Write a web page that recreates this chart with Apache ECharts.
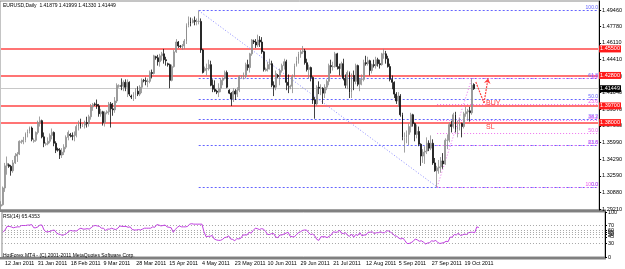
<!DOCTYPE html>
<html><head><meta charset="utf-8">
<script src="https://cdn.jsdelivr.net/npm/echarts@6/dist/echarts.min.js"></script>
<style>html,body{margin:0;padding:0;background:#fff}#c{width:625px;height:269px}</style>
</head><body><div id="c"></div>
<script>
// [day, open, close, low, high, rsi]
const jan = [
[11,1.2950,1.2965,1.2905,1.3000,55],[12,1.2965,1.3135,1.2955,1.3150,60],[13,1.3135,1.3360,1.3095,1.3390,68],
[14,1.3360,1.3385,1.3270,1.3455,68],[16,1.3370,1.3355,1.3340,1.3385,67],[17,1.3355,1.3310,1.3260,1.3370,65],
[18,1.3310,1.3390,1.3290,1.3420,66],[19,1.3390,1.3460,1.3380,1.3490,67],[20,1.3460,1.3480,1.3400,1.3500,67],
[21,1.3480,1.3610,1.3470,1.3620,70],[23,1.3600,1.3605,1.3585,1.3625,70],[24,1.3605,1.3620,1.3580,1.3655,70],
[25,1.3620,1.3690,1.3600,1.3700,71],[26,1.3690,1.3710,1.3650,1.3730,71],[27,1.3710,1.3745,1.3690,1.3760,72],
[28,1.3745,1.3630,1.3610,1.3760,65],[30,1.3610,1.3620,1.3595,1.3640,65],[31,1.3620,1.3700,1.3605,1.3710,67]];
const feb = [
[1,1.3700,1.3800,1.3680,1.3820,71],[2,1.3800,1.3820,1.3760,1.3862,71],[3,1.3820,1.3655,1.3640,1.3830,60],
[4,1.3655,1.3590,1.3550,1.3700,56],[6,1.3580,1.3585,1.3565,1.3600,56],[7,1.3585,1.3610,1.3570,1.3650,57],
[8,1.3610,1.3670,1.3590,1.3690,59],[9,1.3670,1.3700,1.3630,1.3740,60],[10,1.3700,1.3590,1.3560,1.3710,54],
[11,1.3590,1.3520,1.3490,1.3610,51],[13,1.3530,1.3520,1.3505,1.3545,50],[14,1.3520,1.3470,1.3430,1.3540,48],
[15,1.3470,1.3500,1.3440,1.3540,50],[16,1.3500,1.3550,1.3470,1.3580,52],[17,1.3550,1.3650,1.3530,1.3670,57],
[18,1.3650,1.3700,1.3620,1.3720,59],[20,1.3680,1.3670,1.3650,1.3695,58],[21,1.3670,1.3660,1.3620,1.3700,58],
[22,1.3660,1.3670,1.3610,1.3710,58],[23,1.3670,1.3760,1.3650,1.3780,62],[24,1.3760,1.3800,1.3720,1.3820,64],
[25,1.3800,1.3760,1.3740,1.3840,62],[27,1.3770,1.3775,1.3755,1.3790,62],[28,1.3775,1.3800,1.3740,1.3820,63]];
const mar = [
[1,1.3800,1.3790,1.3750,1.3860,62],[2,1.3790,1.3860,1.3760,1.3880,65],[3,1.3860,1.3960,1.3830,1.3990,69],
[4,1.3960,1.3985,1.3920,1.4000,70],[6,1.3990,1.3985,1.3970,1.4005,69],[7,1.3985,1.3970,1.3940,1.4035,68],
[8,1.3970,1.3890,1.3860,1.3990,64],[9,1.3890,1.3910,1.3860,1.3940,64],[10,1.3910,1.3800,1.3770,1.3920,59],
[11,1.3800,1.3900,1.3760,1.3915,62],[13,1.3900,1.3910,1.3885,1.3925,62],[14,1.3910,1.3990,1.3880,1.4010,64],
[15,1.3990,1.3940,1.3750,1.4010,62],[16,1.3940,1.3930,1.3870,1.4000,61],[17,1.3930,1.4020,1.3900,1.4060,64],
[18,1.4020,1.4180,1.4000,1.4200,69],[20,1.4170,1.4175,1.4155,1.4190,68],[21,1.4175,1.4170,1.4130,1.4250,68],
[22,1.4170,1.4210,1.4120,1.4230,68],[23,1.4210,1.4160,1.4120,1.4240,66],[24,1.4160,1.4210,1.4060,1.4240,67],
[25,1.4210,1.4090,1.4070,1.4220,61],[27,1.4070,1.4060,1.4040,1.4085,60],[28,1.4060,1.4080,1.4020,1.4110,60],
[29,1.4080,1.4120,1.4040,1.4150,61],[30,1.4120,1.4090,1.4070,1.4170,60],[31,1.4090,1.4160,1.4070,1.4180,62]];
const apr = [
[1,1.4160,1.4230,1.4100,1.4250,64],[3,1.4230,1.4225,1.4210,1.4245,64],[4,1.4225,1.4220,1.4180,1.4260,64],
[5,1.4220,1.4220,1.4160,1.4250,64],[6,1.4220,1.4310,1.4200,1.4330,67],[7,1.4310,1.4300,1.4250,1.4340,66],
[8,1.4300,1.4480,1.4290,1.4490,72],[10,1.4470,1.4460,1.4440,1.4480,71],[11,1.4460,1.4420,1.4380,1.4490,69],
[12,1.4420,1.4480,1.4370,1.4500,70],[13,1.4480,1.4500,1.4430,1.4520,71],[14,1.4500,1.4440,1.4400,1.4550,67],
[15,1.4440,1.4430,1.4380,1.4470,66],[17,1.4400,1.4390,1.4370,1.4410,65],[18,1.4390,1.4230,1.4150,1.4400,55],
[19,1.4230,1.4370,1.4220,1.4390,61],[20,1.4370,1.4520,1.4360,1.4540,66],[21,1.4520,1.4620,1.4510,1.4650,69],
[22,1.4620,1.4580,1.4560,1.4630,67],[24,1.4580,1.4575,1.4560,1.4590,67],[25,1.4575,1.4580,1.4540,1.4600,67],
[26,1.4580,1.4630,1.4550,1.4650,68],[27,1.4630,1.4790,1.4600,1.4810,73],[28,1.4790,1.4830,1.4770,1.4880,74],
[29,1.4830,1.4810,1.4780,1.4870,73]];
const may = [
[1,1.4820,1.4840,1.4810,1.4860,73],[2,1.4840,1.4830,1.4790,1.4880,73],[3,1.4830,1.4830,1.4790,1.4860,73],
[4,1.4830,1.4830,1.4800,1.4940,73],[5,1.4830,1.4540,1.4510,1.4860,56],[6,1.4540,1.4310,1.4300,1.4550,45],
[8,1.4330,1.4350,1.4320,1.4370,46],[9,1.4350,1.4350,1.4280,1.4400,46],[10,1.4350,1.4390,1.4330,1.4440,48],
[11,1.4390,1.4180,1.4170,1.4430,40],[12,1.4180,1.4140,1.4110,1.4240,38],[13,1.4140,1.4120,1.4110,1.4230,37],
[15,1.4120,1.4110,1.4090,1.4135,37],[16,1.4110,1.4150,1.4060,1.4200,39],[17,1.4150,1.4230,1.4110,1.4250,43],
[18,1.4230,1.4250,1.4180,1.4260,44],[19,1.4250,1.4310,1.4240,1.4330,47],[20,1.4310,1.4160,1.4150,1.4330,40],
[22,1.4130,1.4100,1.4090,1.4140,39],[23,1.4100,1.4040,1.3970,1.4110,36],[24,1.4040,1.4120,1.4010,1.4150,41],
[25,1.4120,1.4090,1.4030,1.4140,40],[26,1.4090,1.4130,1.4060,1.4160,42],[27,1.4130,1.4270,1.4110,1.4280,49],
[29,1.4260,1.4265,1.4245,1.4280,49],[30,1.4265,1.4270,1.4240,1.4310,49],[31,1.4270,1.4390,1.4250,1.4410,55]];
const jun = [
[1,1.4390,1.4360,1.4330,1.4440,53],[2,1.4360,1.4500,1.4310,1.4510,59],[3,1.4500,1.4640,1.4480,1.4650,64],
[5,1.4630,1.4620,1.4600,1.4645,63],[6,1.4620,1.4590,1.4560,1.4650,61],[7,1.4590,1.4640,1.4570,1.4695,63],
[8,1.4640,1.4620,1.4570,1.4680,62],[9,1.4620,1.4520,1.4500,1.4670,57],[10,1.4520,1.4340,1.4320,1.4530,50],
[12,1.4330,1.4345,1.4320,1.4360,50],[13,1.4345,1.4390,1.4320,1.4420,52],[14,1.4390,1.4400,1.4340,1.4450,52],
[15,1.4400,1.4180,1.4160,1.4430,44],[16,1.4180,1.4160,1.4070,1.4220,43],[17,1.4160,1.4300,1.4130,1.4330,49],
[19,1.4280,1.4270,1.4250,1.4295,49],[20,1.4270,1.4330,1.4180,1.4350,51],[21,1.4330,1.4380,1.4310,1.4400,53],
[22,1.4380,1.4420,1.4340,1.4450,55],[23,1.4420,1.4210,1.4130,1.4440,46],[24,1.4210,1.4180,1.4100,1.4290,45],
[26,1.4160,1.4170,1.4140,1.4185,45],[27,1.4170,1.4270,1.4100,1.4290,49],[28,1.4270,1.4380,1.4260,1.4400,54],
[29,1.4380,1.4430,1.4370,1.4470,56],[30,1.4430,1.4500,1.4400,1.4520,59]];
const jul = [
[1,1.4500,1.4520,1.4460,1.4540,60],[4,1.4520,1.4530,1.4500,1.4580,60],[5,1.4530,1.4410,1.4390,1.4550,54],
[6,1.4410,1.4340,1.4320,1.4450,50],[7,1.4340,1.4360,1.4250,1.4390,51],[8,1.4360,1.4260,1.4220,1.4370,47],
[11,1.4260,1.4030,1.3990,1.4270,39],[12,1.4030,1.3990,1.3840,1.4060,37],[13,1.3990,1.4160,1.3970,1.4180,45],
[14,1.4160,1.4150,1.4090,1.4220,45],[15,1.4150,1.4150,1.4080,1.4190,45],[18,1.4150,1.4100,1.3990,1.4160,43],
[19,1.4100,1.4160,1.4050,1.4190,46],[20,1.4160,1.4220,1.4130,1.4240,49],[21,1.4220,1.4380,1.4180,1.4400,56],
[22,1.4380,1.4370,1.4300,1.4440,55],[25,1.4370,1.4370,1.4330,1.4420,55],[26,1.4370,1.4500,1.4360,1.4520,60],
[27,1.4500,1.4370,1.4340,1.4510,53],[28,1.4370,1.4350,1.4280,1.4400,52],[29,1.4350,1.4400,1.4270,1.4420,54]];
const aug = [
[1,1.4400,1.4250,1.4230,1.4450,48],[2,1.4250,1.4180,1.4150,1.4290,46],[3,1.4180,1.4310,1.4140,1.4330,51],
[4,1.4310,1.4110,1.4050,1.4320,44],[5,1.4110,1.4280,1.4050,1.4300,50],[8,1.4280,1.4220,1.4130,1.4330,48],
[9,1.4220,1.4380,1.4190,1.4400,54],[10,1.4380,1.4190,1.4170,1.4390,47],[11,1.4190,1.4240,1.4120,1.4250,49],
[12,1.4240,1.4240,1.4180,1.4290,49],[15,1.4240,1.4410,1.4220,1.4440,55],[16,1.4410,1.4400,1.4380,1.4480,55],
[17,1.4400,1.4430,1.4380,1.4470,56],[18,1.4430,1.4330,1.4280,1.4440,52],[19,1.4330,1.4390,1.4300,1.4400,54],
[22,1.4390,1.4380,1.4360,1.4440,54],[23,1.4380,1.4440,1.4350,1.4470,56],[24,1.4440,1.4400,1.4370,1.4460,54],
[25,1.4400,1.4390,1.4350,1.4440,54],[26,1.4390,1.4500,1.4380,1.4510,58],[29,1.4500,1.4500,1.4450,1.4550,58],
[30,1.4500,1.4450,1.4400,1.4530,55],[31,1.4450,1.4370,1.4360,1.4480,52]];
const sep = [
[1,1.4370,1.4240,1.4220,1.4400,47],[2,1.4240,1.4210,1.4140,1.4280,46],[5,1.4210,1.4090,1.4050,1.4220,42],
[6,1.4090,1.4020,1.3990,1.4110,40],[7,1.4020,1.4070,1.3960,1.4110,42],[8,1.4070,1.3880,1.3860,1.4090,36],
[9,1.3880,1.3650,1.3620,1.3900,30],[12,1.3650,1.3650,1.3495,1.3700,30],[13,1.3650,1.3680,1.3590,1.3720,32],
[14,1.3680,1.3760,1.3570,1.3790,35],[15,1.3760,1.3880,1.3700,1.3900,40],[16,1.3880,1.3790,1.3760,1.3890,38],
[19,1.3790,1.3680,1.3610,1.3800,35],[20,1.3680,1.3710,1.3640,1.3780,36],[21,1.3710,1.3580,1.3560,1.3760,33],
[22,1.3580,1.3460,1.3360,1.3590,29],[23,1.3460,1.3500,1.3390,1.3530,31],[26,1.3500,1.3510,1.3380,1.3560,32],
[27,1.3510,1.3590,1.3480,1.3650,36],[28,1.3590,1.3540,1.3510,1.3620,35],[29,1.3540,1.3590,1.3520,1.3670,37],
[30,1.3590,1.3390,1.3370,1.3630,32]];
const oct = [
[3,1.3390,1.3310,1.3300,1.3440,30],[4,1.3310,1.3340,1.3145,1.3360,31],[5,1.3340,1.3350,1.3280,1.3420,32],
[6,1.3350,1.3410,1.3290,1.3450,35],[7,1.3410,1.3380,1.3330,1.3490,34],[10,1.3380,1.3620,1.3370,1.3640,44],
[11,1.3620,1.3620,1.3530,1.3680,44],[12,1.3620,1.3780,1.3600,1.3800,50],[13,1.3780,1.3760,1.3700,1.3820,49],
[14,1.3760,1.3880,1.3740,1.3900,53],[17,1.3880,1.3730,1.3700,1.3910,48],[18,1.3730,1.3760,1.3650,1.3820,49],
[19,1.3760,1.3790,1.3720,1.3850,51],[20,1.3790,1.3760,1.3650,1.3800,50],[21,1.3760,1.3890,1.3740,1.3910,54],
[24,1.3890,1.3910,1.3860,1.3960,55],[25,1.3910,1.3920,1.3820,1.3940,55],[26,1.3920,1.3900,1.3810,1.3960,54],
[27,1.3900,1.4180,1.3880,1.4247,67],[28,1.41879,1.41449,1.41330,1.41999,65.4353]];

const monthNames = ['Jan','Feb','Mar','Apr','May','Jun','Jul','Aug','Sep','Oct'];
const monthData = [jan,feb,mar,apr,may,jun,jul,aug,sep,oct];
const tickLabels = ['12 Jan 2011','31 Jan 2011','18 Feb 2011','9 Mar 2011','28 Mar 2011','15 Apr 2011','4 May 2011','23 May 2011','10 Jun 2011','29 Jun 2011','21 Jul 2011','12 Aug 2011','5 Sep 2011','27 Sep 2011','19 Oct 2011'];
const priceTicks = [1.29210,1.30880,1.32590,1.34290,1.35990,1.37660,1.39370,1.41040,1.42740,1.44410,1.46110,1.47780,1.49460];
const rsiTicks = [0,30,45,50,55,60,70,100];
const rsiLevels = [30,45,50,55,60,70];
const redLevels = [1.45500,1.42800,1.39700,1.38000];
const lastPrice = 1.41449;
const blueFibLevels = [0,23.6,38.2,50,61.8,100];
const blueFibRange = [1.4940,1.3145];
const pinkFibLevels = [0,23.6,38.2,50,61.8,100,123.6];
const pinkFibRange = [1.4247,1.3145];
const swingDates = ['4 May 2011','4 Oct 2011','27 Oct 2011'];
const arrowSlots = [233,237,239];
const arrowPrices = [1.4213,1.4000,1.4250];
const notes = ['BUY','SL'];
const notePrices = [1.4000,1.3758];
const totalSlots = 294;

const cats=[], ohlc=[], rsi=[];
monthData.forEach((arr,mi)=>arr.forEach(r=>{
  cats.push(r[0]+' '+monthNames[mi]+' 2011');
  ohlc.push([r[1],r[2],r[3],r[4]]);
  rsi.push(r[5]);
}));
for(let k=cats.length;k<totalSlots;k++) cats.push('pad'+k);
const endIdx = totalSlots-1;
const iHigh = cats.indexOf(swingDates[0]), iLow = cats.indexOf(swingDates[1]), iHigh2 = cats.indexOf(swingDates[2]);
const yMin = 1.29108, yMax = 1.50376;

const FONT = 'Liberation Sans';
const blueFibLines = blueFibLevels.map(l=>{
  const p = blueFibRange[1] + l/100*(blueFibRange[0]-blueFibRange[1]);
  return [{coord:[iHigh,p], label:{formatter:l.toFixed(1)}},{coord:[endIdx,p]}];
});
const pinkFibLines = pinkFibLevels.map(l=>{
  const p = pinkFibRange[0] - l/100*(pinkFibRange[0]-pinkFibRange[1]);
  const item = {coord:[iLow,p], label:{formatter:l.toFixed(1)}};
  if (p < yMin) item.lineStyle = {opacity:0};
  return [item,{coord:[endIdx,p]}];
});
const priceLine = (p, lineColor, width, boxColor)=>[
  {coord:[0,p], lineStyle:{color:lineColor, width:width, type:'solid'},
   label:{show:true, position:'end', distance:1, formatter:p.toFixed(5), color:'#fff', backgroundColor:boxColor, padding:[1,1,0,1], fontSize:5.5, fontFamily:FONT}},
  {coord:[endIdx,p]}
];

const chart = echarts.init(document.getElementById('c'), null, {renderer:'canvas'});
const smallTitle = (text,left,top,size)=>({text, left, top, padding:0, textStyle:{fontSize:size, fontWeight:'normal', color:'#000', fontFamily:FONT}});
chart.setOption({
  animation:false,
  backgroundColor:'#fff',
  textStyle:{fontFamily:FONT},
  title:[
    smallTitle('EURUSD,Daily  1.41879 1.41999 1.41330 1.41449',3,3,5),
    smallTitle('RSI(14) 65.4353',3,214,5),
    smallTitle('HotForex MT4 - (C) 2001-2011 MetaQuotes Software Corp.',3,253,5)
  ],
  grid:[
    {left:0, top:1, width:605, height:209, show:true, borderColor:'#8a8a8a', borderWidth:1},
    {left:0, top:212, width:605, height:45, show:true, borderColor:'#8a8a8a', borderWidth:1}
  ],
  graphic:[
    {type:'rect', shape:{x:0,y:209.5,width:606,height:2.5}, style:{fill:'#808080'}, silent:true},
    {type:'rect', shape:{x:0,y:257,width:606,height:2.5}, style:{fill:'#808080'}, silent:true}
  ],
  xAxis:[
    {type:'category', gridIndex:0, data:cats, axisLine:{show:false}, axisTick:{show:false}, axisLabel:{show:false}, splitLine:{show:false}},
    {type:'category', gridIndex:1, data:cats, axisLine:{show:false}, axisTick:{show:false},
     axisLabel:{show:true, interval:0, hideOverlap:false, formatter:v=>tickLabels.indexOf(v)>=0?v:'', align:'left', fontSize:5.4, color:'#000', margin:4, fontFamily:FONT},
     splitLine:{show:false}}
  ],
  yAxis:[
    {type:'value', gridIndex:0, position:'right', min:yMin, max:yMax, splitLine:{show:false},
     axisLine:{show:true, lineStyle:{color:'#000', width:1}},
     axisTick:{show:true, length:2, lineStyle:{color:'#000'}, customValues:priceTicks},
     axisLabel:{customValues:priceTicks, formatter:v=>v.toFixed(5), fontSize:5.5, margin:3, color:'#000', fontFamily:FONT}},
    {type:'value', gridIndex:1, position:'right', min:0, max:100, splitLine:{show:false},
     axisLine:{show:true, lineStyle:{color:'#000', width:1}},
     axisTick:{show:true, length:2, lineStyle:{color:'#000'}, customValues:rsiTicks},
     axisLabel:{customValues:rsiTicks, fontSize:5.5, margin:3, color:'#000', fontFamily:FONT}}
  ],
  series:[
    {type:'line', xAxisIndex:0, yAxisIndex:0, data:[], clip:false, silent:true, z:1,
     markLine:{symbol:'none', silent:true, animation:false,
       data:[
         ...redLevels.map(p=>priceLine(p,'#ff4646',1.5,'#ff1a1a')),
         priceLine(lastPrice,'#c8c8c8',1,'#000')
       ]}},
    {type:'line', xAxisIndex:0, yAxisIndex:0, data:[], clip:false, silent:true, z:3,
     markLine:{symbol:'none', silent:true, animation:false,
       lineStyle:{color:'#6464ff', width:1, type:[2,2]},
       label:{show:true, position:'insideEndTop', distance:0, color:'#6464ff', fontSize:5, fontFamily:FONT},
       data:[...blueFibLines,
         [{coord:[iHigh,blueFibRange[0]], label:{show:false}, lineStyle:{color:'#8c8cff', type:[1,2]}},{coord:[iLow,blueFibRange[1]]}]
       ]}},
    {type:'line', xAxisIndex:0, yAxisIndex:0, data:[], clip:false, silent:true, z:4,
     markLine:{symbol:'none', silent:true, animation:false,
       lineStyle:{color:'#ee70ee', width:1, type:[1,2]},
       label:{show:true, position:'insideEndTop', distance:0, color:'#ee55ee', fontSize:5, fontFamily:FONT},
       data:[...pinkFibLines,
         [{coord:[iLow,pinkFibRange[1]], label:{show:false}},{coord:[iHigh2,pinkFibRange[0]]}]
       ]}},
    {type:'candlestick', xAxisIndex:0, yAxisIndex:0, data:ohlc, barWidth:1.4, z:5,
     itemStyle:{color:'#c4c4c4', borderColor:'#8a8a8a', color0:'#111', borderColor0:'#111', borderWidth:0.8}},
    {type:'line', xAxisIndex:0, yAxisIndex:0, data:[], clip:false, silent:true, z:6,
     markLine:{silent:true, animation:false, symbol:'none',
       lineStyle:{color:'#ff4040', width:1.2, type:[2,1]},
       label:{show:false},
       data:[
         [{coord:[arrowSlots[0],arrowPrices[0]]},{coord:[arrowSlots[1],arrowPrices[1]]}],
         [{coord:[arrowSlots[1],arrowPrices[1]], symbol:'none'},{coord:[arrowSlots[2],arrowPrices[2]], symbol:'arrow', symbolSize:5}]
       ]},
     markPoint:{silent:true, animation:false, symbolSize:0,
       label:{show:true, position:'right', distance:0, color:'#ff4040', fontSize:7, fontFamily:FONT},
       data:notes.map((t,k)=>({coord:[arrowSlots[1]+1, notePrices[k]], label:{formatter:t}}))}},
    {type:'line', xAxisIndex:1, yAxisIndex:1, data:rsi, symbol:'none', z:5,
     lineStyle:{color:'#c040e0', width:1},
     markLine:{symbol:'none', silent:true, animation:false, label:{show:false},
       lineStyle:{color:'#a8a8a8', width:1, type:[1,2]},
       data:rsiLevels.map(v=>({yAxis:v}))}}
  ]
});
</script></body></html>
